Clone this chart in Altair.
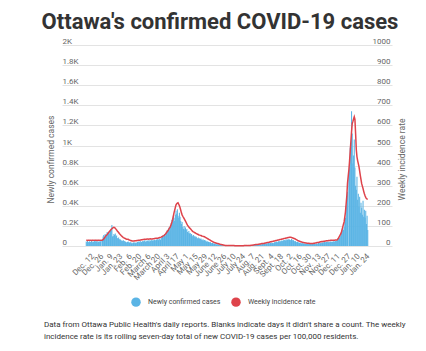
import altair as alt
import pandas as pd

START = "2020-12-02"

# Newly confirmed cases, one row per week (Wednesday to Tuesday); None = no count shared
cases_weeks = [
    [45, 38, 52, 41, 35, 48, 40],
    [42, 50, 37, 44, 39, 55, 46],
    [48, 43, 51, 38, 45, 40, 47],
    [44, 50, None, 70, 95, 110, 85],
    [120, 105, 98, 140, 115, 130, 125],
    [140, 150, 170, 210, 95, 100, 120],
    [110, 125, 95, 105, 80, 70, 85],
    [65, 70, 60, 55, 48, 52, 58],
    [45, 50, 42, 38, 35, 40, 44],
    [38, 35, 30, 42, 28, 25, 33],
    [35, 30, 38, 28, 32, 36, 40],
    [42, 45, 38, 50, 36, 40, 48],
    [50, 44, 52, 58, 40, 47, 55],
    [52, 48, 60, 45, 55, 50, 62],
    [52, 58, 54, 62, 50, 60, 64],
    [62, 70, 58, 75, 66, 60, 80],
    [85, 95, 110, 90, 120, 105, 130],
    [140, 160, 150, 175, 190, 155, 200],
    [230, 260, 245, 300, 280, 250, 310],
    [350, 320, 365, 300, 280, 330, 290],
    [250, 220, 240, 190, 170, 200, 165],
    [185, 160, 170, 140, 130, 150, 125],
    [130, 115, 120, 105, 95, 110, 92],
    [100, 88, 92, 80, 75, 85, 70],
    [78, 70, 74, 62, 58, 66, 55],
    [60, 52, 55, 45, 42, 48, 40],
    [40, 35, 38, 30, 27, 32, 26],
    [25, 22, 24, 18, 16, 20, 15],
    [14, 12, 10, 9, 8, 11, 7],
    [6, 5, 7, 4, 3, 5, 4],
    [3, 4, 2, 5, 3, 2, 4],
    [2, 3, 4, 1, 3, 2, 1],
    [2, 1, 3, 2, 4, 1, 2],
    [3, 2, 1, 4, 2, 3, 2],
    [4, 3, 5, 6, 4, 7, 5],
    [8, 6, 9, 10, 7, 11, 9],
    [12, 10, 14, 11, 15, 13, 16],
    [18, 15, 20, 17, 22, 19, 24],
    [25, 22, 28, 24, 30, 26, 31],
    [32, 28, 35, 30, 27, 33, 38],
    [40, 36, 45, 38, 42, 48, 44],
    [50, 46, 55, 48, 52, 58, 54],
    [60, 55, 66, 58, 62, 68, 64],
    [65, 60, 58, 70, 55, 62, 57],
    [50, 45, 48, 40, 38, 42, 35],
    [35, 30, 32, 28, 26, 30, 24],
    [25, 22, 26, 20, 21, 24, 19],
    [20, 18, 22, 19, 17, 21, 23],
    [22, 20, 25, 18, 21, 24, 19],
    [26, 30, 24, 32, 28, 35, 31],
    [34, 38, 32, 40, 36, 42, 39],
    [40, 44, 38, 42, 36, 45, 41],
    [44, 40, 48, 42, 46, 50, 45],
    [55, 62, 70, 68, 80, 95, 105],
    [130, 150, 175, 160, 190, 240, 280],
    [400, 470, 540, None, 700, 820, 980],
    [980, 1340, 1120, 820, 900, 1060, 780],
    [600, 560, 690, 460, 520, 390, 490],
    [330, 430, 380, 310, 450, 290, 360],
    [280, 350, 220, 300, 160],
]

# Weekly incidence rate (rolling 7-day cases per 100,000), same weeks
rate_weeks = [
    [28, 28, 27, 28, 28, 29, 28],
    [28, 27, 28, 28, 29, 28, 28],
    [28, 28, 27, 28, 28, 28, 29],
    [28, 28, 28, 29, 31, 36, 40],
    [45, 50, 53, 57, 62, 66, 71],
    [75, 79, 83, 86, 89, 91, 93],
    [91, 88, 84, 80, 75, 71, 67],
    [62, 58, 55, 51, 48, 45, 42],
    [40, 38, 37, 35, 34, 33, 33],
    [31, 30, 28, 27, 26, 25, 25],
    [25, 25, 26, 26, 26, 27, 27],
    [28, 28, 29, 30, 30, 31, 31],
    [32, 32, 33, 33, 34, 34, 35],
    [35, 34, 35, 35, 36, 35, 35],
    [35, 36, 36, 37, 37, 38, 38],
    [38, 39, 40, 41, 42, 43, 44],
    [46, 48, 50, 52, 55, 58, 62],
    [67, 72, 76, 82, 88, 92, 100],
    [110, 120, 132, 148, 165, 178, 192],
    [205, 210, 213, 215, 208, 200, 190],
    [178, 165, 155, 148, 142, 136, 130],
    [124, 117, 110, 104, 99, 94, 90],
    [87, 83, 79, 75, 72, 70, 68],
    [66, 64, 62, 60, 58, 57, 55],
    [54, 53, 52, 50, 49, 48, 47],
    [46, 44, 42, 40, 38, 36, 34],
    [32, 30, 28, 26, 24, 22, 20],
    [18, 17, 16, 15, 14, 13, 12],
    [11, 10, 9, 8, 7, 6, 6],
    [5, 4, 4, 3, 3, 3, 3],
    [2, 2, 2, 2, 2, 2, 2],
    [2, 2, 2, 1, 1, 1, 1],
    [1, 1, 1, 1, 1, 1, 1],
    [1, 1, 1, 2, 2, 2, 2],
    [2, 2, 3, 3, 3, 3, 4],
    [4, 4, 5, 5, 6, 6, 7],
    [7, 8, 8, 9, 9, 10, 10],
    [11, 12, 12, 13, 13, 14, 15],
    [15, 16, 17, 17, 18, 19, 20],
    [21, 21, 22, 23, 24, 25, 25],
    [26, 27, 28, 29, 30, 30, 31],
    [32, 33, 34, 35, 35, 36, 37],
    [38, 39, 40, 40, 41, 42, 42],
    [43, 43, 43, 42, 41, 40, 39],
    [37, 36, 34, 32, 30, 28, 26],
    [25, 24, 22, 21, 20, 19, 18],
    [17, 16, 16, 15, 15, 14, 14],
    [14, 14, 13, 13, 13, 13, 13],
    [13, 14, 14, 15, 15, 16, 17],
    [18, 18, 19, 20, 21, 21, 22],
    [23, 23, 24, 24, 25, 25, 26],
    [26, 26, 27, 27, 27, 28, 28],
    [28, 28, 29, 29, 29, 30, 30],
    [30, 32, 36, 42, 48, 54, 60],
    [70, 82, 95, 108, 120, 145, 170],
    [210, 250, 312, 345, 378, 420, 470],
    [520, 570, 610, 620, 632, 643, 630],
    [560, 480, 444, 425, 410, 395, 372],
    [350, 330, 310, 298, 286, 272, 260],
    [250, 242, 236, 234, 233],
]

tick_dates = [
    "2020-12-12", "2020-12-26", "2021-01-09", "2021-01-23", "2021-02-06",
    "2021-02-20", "2021-03-06", "2021-03-20", "2021-04-03", "2021-04-17",
    "2021-05-01", "2021-05-15", "2021-05-29", "2021-06-12", "2021-06-26",
    "2021-07-10", "2021-07-24", "2021-08-07", "2021-08-21", "2021-09-04",
    "2021-09-18", "2021-10-02", "2021-10-16", "2021-10-30", "2021-11-13",
    "2021-11-27", "2021-12-11", "2021-12-27", "2022-01-10", "2022-01-24",
]
month_names = ["Jan.", "Feb.", "March", "April", "May", "June", "July",
               "Aug.", "Sept.", "Oct.", "Nov.", "Dec."]
series_names = ["Newly confirmed cases", "Weekly incidence rate"]
series_colors = ["#5AB4E5", "#DE434B"]
footnote = [
    "Data from Ottawa Public Health's daily reports. Blanks indicate days it didn't share a count. The weekly",
    "incidence rate is its rolling seven-day total of new COVID-19 cases per 100,000 residents.",
]

cases = [v for w in cases_weeks for v in w]
rate = [v for w in rate_weeks for v in w]
days = pd.date_range(START, periods=len(cases), freq="D")
df = pd.DataFrame({
    "date": days.strftime("%Y-%m-%dT12:00:00"),
    "cases": cases,
    "rate": rate,
    "series": series_names[0],
})

def dt(s):
    y, m, d = (int(p) for p in s.split("-"))
    return alt.DateTime(year=y, month=m, date=d)

FONT = "Roboto"
LABEL = "#666666"
month_expr = "[" + ",".join("'%s'" % m for m in month_names) + "]"

x_scale = alt.Scale(domain=[dt("2020-11-04"), dt("2022-02-21")])
x_axis = alt.Axis(
    values=[dt(s) for s in tick_dates],
    labelExpr=month_expr + "[month(datum.value)] + ' ' + date(datum.value)",
    labelAngle=-45, labelAlign="right", labelBaseline="middle",
    labelOverlap=False, labelFlush=False, labelPadding=9, labelFontSize=8,
    labelFont=FONT, labelColor=LABEL, domain=False, ticks=False, grid=False,
    title=None)

bars = alt.Chart(df).mark_bar(opacity=1, width=1.05).encode(
    x=alt.X("date:T", scale=x_scale, axis=x_axis, title=None),
    y=alt.Y("cases:Q", scale=alt.Scale(domain=[0, 2000]), axis=alt.Axis(
        values=list(range(0, 2001, 200)),
        labelExpr="datum.value == 0 ? '0' : format(datum.value / 1000, '.1~f') + 'K'",
        grid=True, gridColor="#e3e3e3", domain=False, ticks=False,
        labelAlign="left", labelPadding=0, labelBaseline="alphabetic", labelOffset=-1.5,
        labelFlush=False, labelFontSize=8, labelFont=FONT, labelColor=LABEL,
        title="Newly confirmed cases", titleFont=FONT, titleFontSize=8.5,
        titleFontWeight="normal", titleColor=LABEL, titleAngle=-90,
        titleX=-12, titleY=114, titleAlign="center", titleBaseline="middle")),
    color=alt.Color("series:N", scale=alt.Scale(domain=series_names, range=series_colors),
                    legend=alt.Legend(title=None, orient="none", direction="horizontal",
                                      legendX=69, legendY=252, symbolType="circle",
                                      symbolSize=90, symbolOpacity=1, symbolStrokeWidth=0,
                                      labelFont=FONT, labelFontSize=7, labelColor="#444",
                                      columnPadding=10, labelOffset=7)),
)

line = alt.Chart(df).mark_line(color=series_colors[1], strokeWidth=1.5).encode(
    x=alt.X("date:T", scale=x_scale, axis=x_axis, title=None),
    y=alt.Y("rate:Q", scale=alt.Scale(domain=[0, 1000]), axis=alt.Axis(
        orient="right", values=list(range(0, 1001, 100)), format="d", grid=False,
        domain=False, ticks=False, labelAlign="right", labelPadding=-2,
        labelBaseline="alphabetic", labelOffset=-1.5, labelFlush=False,
        labelFontSize=8, labelFont=FONT, labelColor=LABEL,
        title="Weekly incidence rate", titleFont=FONT, titleFontSize=8.5,
        titleFontWeight="normal", titleColor=LABEL, titleAngle=-90,
        titleX=9, titleY=114, titleAlign="center", titleBaseline="middle")),
)

note = alt.Chart(pd.DataFrame({"k": [0]})).mark_text(
    text=footnote, align="left", baseline="top", font=FONT, fontSize=8,
    color="#333333", lineHeight=12,
).encode(x=alt.value(-18), y=alt.value(276))

chart = alt.layer(bars, line, note).resolve_scale(y="independent").properties(
    width=330, height=201,
    autosize=alt.AutoSizeParams(type="none"),
    padding={"left": 62, "top": 45, "right": 34, "bottom": 105},
    title=alt.TitleParams("Ottawa's confirmed COVID-19 cases", font=FONT, fontSize=22,
                          fontWeight="bold", color="#333333", anchor="middle", dx=-7),
).configure_view(stroke=None)

chart.save("out.html", embed_options={"renderer": "svg", "actions": False})
